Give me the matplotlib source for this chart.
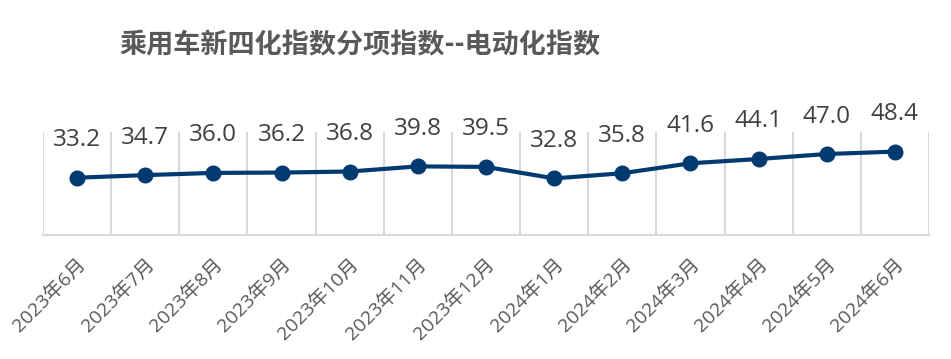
import matplotlib
matplotlib.use("Agg")
import matplotlib.pyplot as plt
import numpy as np

plt.rcParams['font.family'] = ['Open Sans', 'Noto Sans CJK SC', 'DejaVu Sans']

title = "乘用车新四化指数分项指数--电动化指数"
categories = ["2023年6月", "2023年7月", "2023年8月", "2023年9月", "2023年10月",
              "2023年11月", "2023年12月", "2024年1月", "2024年2月", "2024年3月",
              "2024年4月", "2024年5月", "2024年6月"]
values = [33.2, 34.7, 36.0, 36.2, 36.8, 39.8, 39.5, 32.8, 35.8, 41.6, 44.1, 47.0, 48.4]

fig = plt.figure(figsize=(9.51, 3.59), dpi=100)
ax = fig.add_axes([43/951, 1 - 234.7/359, (929 - 43)/951, (234.7 - 131.7)/359])

x = np.arange(len(categories))
ax.plot(x, values, color='#003a70', linewidth=3, marker='o', markersize=10.5,
        zorder=3, clip_on=False)
for xi, v in zip(x, values):
    ax.annotate(f"{v:.1f}", (xi, v), xytext=(0, 27), textcoords='offset points',
                ha='center', va='center', fontsize=17.5, color='#404040')

ax.set_xlim(-0.5, len(categories) - 0.5)
ax.set_ylim(0, 60)
ax.set_yticks([])
ax.set_xticks(x)
ax.set_xticklabels(categories, rotation=45, ha='right', va='top',
                   rotation_mode='anchor', fontsize=14, color='#595959')
ax.tick_params(axis='x', length=0, pad=15)
ax.set_xticks(np.arange(-0.5, len(categories)), minor=True)
ax.tick_params(axis='x', which='minor', length=0)
ax.grid(axis='x', which='minor', color='#d9d9d9', linewidth=1.5)
ax.grid(axis='x', which='major', visible=False)
for s in ['left', 'right', 'top']:
    ax.spines[s].set_visible(False)
ax.spines['bottom'].set_color('#d9d9d9')
ax.spines['bottom'].set_linewidth(1.5)

fig.text(360/951, 1 - 45/359, title, ha='center', va='center', fontsize=19.5,
         fontweight='bold', color='#595959', family=['Noto Sans CJK SC'])

fig.savefig("out.png", dpi=100)
